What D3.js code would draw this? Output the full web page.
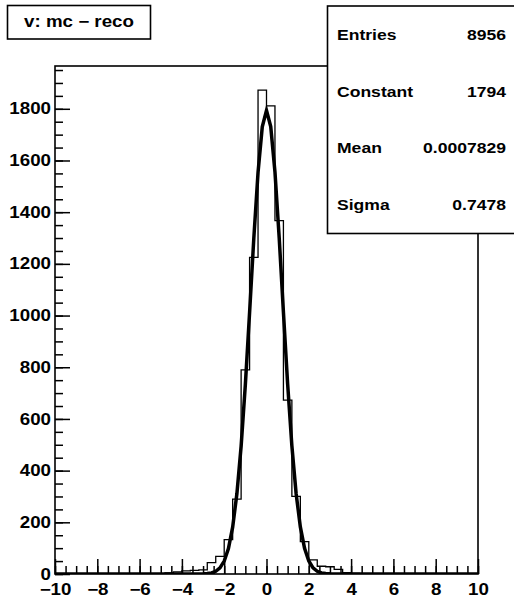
<!DOCTYPE html>
<html>
<head>
<meta charset="utf-8">
<script src="https://cdn.jsdelivr.net/npm/d3@7"></script>
<style>
  body { margin: 0; background: #fff; }
  text { font-family: "Liberation Sans", Arial, sans-serif; font-weight: bold; fill: #000; }
</style>
</head>
<body>
<svg></svg>
<script>
// histogram v: mc - reco, 50 bins from -10 to 10
const xRange = [-10, 10];
const binWidth = 0.4;
const counts = [
  0, 0, 0, 0, 0, 0, 0, 0, 0, 0,
  0, 0, 0, 4, 8, 12, 14, 16, 44, 68,
  133, 290, 790, 1225, 1872, 1811, 1367, 673, 300, 125,
  55, 30, 28, 18, 5, 2, 0, 0, 0, 0,
  0, 0, 0, 0, 0, 0, 0, 0, 0, 0
];

// gaussian fit parameters
const fitConstant = 1794;
const fitMean = 0.0007829;
const fitSigma = 0.7478;

const titleText = 'v: mc \u2212 reco';
const statLabels = ['Entries', 'Constant', 'Mean', 'Sigma'];
const statValues = ['8956', '1794', '0.0007829', '0.7478'];

const xMajor = d3.range(-10, 10.01, 2);
const xMinor = d3.range(-10, 10.01, 0.5);
const yMajor = d3.range(0, 1801, 200);
const yMinor = d3.range(0, 1951, 50);

const width = 514, height = 599;
const frame = { left: 55, right: 478, top: 66, bottom: 574 };
const stretch = 1.17;

const svg = d3.select('svg')
  .attr('width', width)
  .attr('height', height);

const x = d3.scaleLinear().domain(xRange).range([frame.left, frame.right]);
const y = d3.scaleLinear().domain([0, d3.max(counts) * 1.05]).range([frame.bottom, frame.top]);

// widen glyphs a little, the reference text is horizontally stretched
function widen(sel) {
  sel.each(function() {
    const len = this.getComputedTextLength();
    d3.select(this)
      .attr('textLength', len * stretch)
      .attr('lengthAdjust', 'spacingAndGlyphs');
  });
}

svg.append('defs').append('clipPath')
  .attr('id', 'clip')
  .append('rect')
  .attr('x', frame.left)
  .attr('y', frame.top)
  .attr('width', frame.right - frame.left)
  .attr('height', frame.bottom - frame.top);

// histogram outline
const bins = counts.map((c, i) => ({ low: xRange[0] + i * binWidth, c: c }));
const pts = bins.map(b => [x(b.low), y(b.c)]);
pts.push([x(xRange[1]), y(counts[counts.length - 1])]);

svg.append('path')
  .attr('d', d3.line().curve(d3.curveStepAfter)(pts))
  .attr('fill', 'none')
  .attr('stroke', '#000')
  .attr('stroke-width', 1.3)
  .attr('clip-path', 'url(#clip)');

// fit function, sampled like ROOT with 100 points
const fitX = d3.range(0, 101).map(i => xRange[0] + i * (xRange[1] - xRange[0]) / 100);
const gaus = v => fitConstant * Math.exp(-0.5 * Math.pow((v - fitMean) / fitSigma, 2));

svg.append('path')
  .attr('d', d3.line().x(v => x(v)).y(v => y(gaus(v)))(fitX))
  .attr('fill', 'none')
  .attr('stroke', '#000')
  .attr('stroke-width', 3.5)
  .attr('stroke-linejoin', 'miter')
  .attr('clip-path', 'url(#clip)');

// axes, ticks point into the frame
svg.append('g')
  .attr('transform', `translate(0,${frame.bottom})`)
  .call(d3.axisBottom(x).tickValues(xMinor).tickSize(-8).tickFormat(''));
svg.append('g')
  .attr('transform', `translate(0,${frame.bottom})`)
  .call(d3.axisBottom(x).tickValues(xMajor).tickSize(-15).tickPadding(10).tickFormat(d3.format('d')));

svg.append('g')
  .attr('transform', `translate(${frame.left},0)`)
  .call(d3.axisLeft(y).tickValues(yMinor).tickSize(-8).tickFormat(''));
svg.append('g')
  .attr('transform', `translate(${frame.left},0)`)
  .call(d3.axisLeft(y).tickValues(yMajor).tickSize(-15).tickPadding(4).tickFormat(d3.format('d')));

svg.selectAll('.domain').remove();
svg.selectAll('.tick line').attr('stroke', '#000').attr('stroke-width', 1.5);
svg.selectAll('.tick text')
  .attr('font-size', 16)
  .style('font-family', '"Liberation Sans", Arial, sans-serif')
  .style('font-weight', 'bold')
  .call(widen);

// frame
svg.append('rect')
  .attr('x', frame.left)
  .attr('y', frame.top)
  .attr('width', frame.right - frame.left)
  .attr('height', frame.bottom - frame.top)
  .attr('fill', 'none')
  .attr('stroke', '#000')
  .attr('stroke-width', 1.6);

// title box
svg.append('rect')
  .attr('x', 7.5).attr('y', 5.5)
  .attr('width', 143).attr('height', 33.5)
  .attr('fill', '#fff')
  .attr('stroke', '#000')
  .attr('stroke-width', 1.6);
svg.append('text')
  .attr('x', 79).attr('y', 27)
  .attr('text-anchor', 'middle')
  .attr('font-size', 16)
  .text(titleText)
  .call(widen);

// stats box
const statBox = { left: 327.5, top: 6, bottom: 233.5 };
svg.append('rect')
  .attr('x', statBox.left).attr('y', statBox.top)
  .attr('width', width - statBox.left + 10)
  .attr('height', statBox.bottom - statBox.top)
  .attr('fill', '#fff')
  .attr('stroke', '#000')
  .attr('stroke-width', 1.6);

const rowH = (statBox.bottom - statBox.top) / statLabels.length;
const rows = svg.append('g').selectAll('g')
  .data(statLabels)
  .enter().append('g')
  .attr('transform', (d, i) => `translate(0,${statBox.top + rowH * (i + 0.5)})`);

rows.append('text')
  .attr('x', 337)
  .attr('dy', '0.35em')
  .attr('font-size', 15)
  .text(d => d)
  .call(widen);

rows.append('text')
  .attr('x', 506)
  .attr('dy', '0.35em')
  .attr('text-anchor', 'end')
  .attr('font-size', 15)
  .text((d, i) => statValues[i])
  .call(widen);
</script>
</body>
</html>
